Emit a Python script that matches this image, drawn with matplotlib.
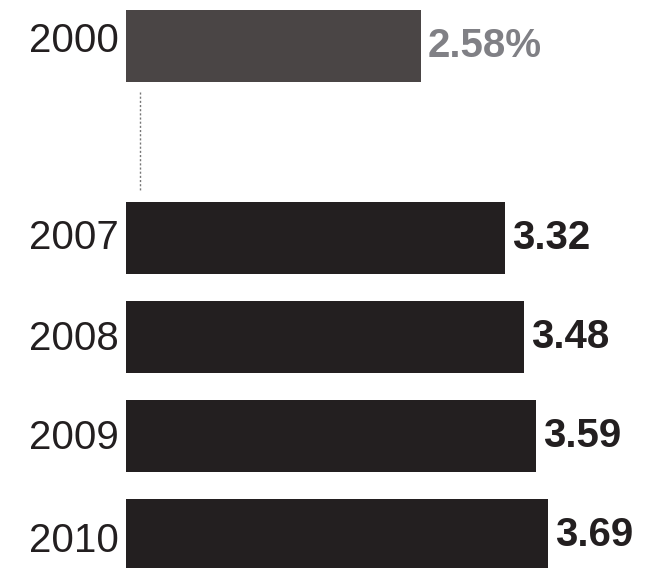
import matplotlib
matplotlib.use('Agg')
import matplotlib.pyplot as plt

years = ['2000', '2007', '2008', '2009', '2010']
values = [2.58, 3.32, 3.48, 3.59, 3.69]
labels = ['2.58%', '3.32', '3.48', '3.59', '3.69']

# vertical slots (gap between 2000 and 2007)
slots = [0, 1.95, 2.95, 3.96, 4.96]
# small nudges of the year labels, as in the original layout
year_nudge = [-0.05, -0.005, 0.025, 0.015, 0.065]
bar_h = 0.73
bar_colors = ['#4a4545', '#231f20', '#231f20', '#231f20', '#231f20']
label_colors = ['#808085', '#231f20', '#231f20', '#231f20', '#231f20']

fig = plt.figure(figsize=(6.52, 5.68), dpi=100)
ax = fig.add_axes([0, 0, 1, 1])
ax.barh(slots, values, height=bar_h, color=bar_colors, linewidth=0)

for s, n, y in zip(slots, year_nudge, years):
    ax.text(-0.06, s + n, y, ha='right', va='center', fontsize=29,
            family='Liberation Sans', color='#231f20')
for s, v, lab, c in zip(slots, values, labels, label_colors):
    ax.text(v + 0.06, s, lab, ha='left', va='center', fontsize=29,
            family='Liberation Sans', fontweight='bold', color=c)

# dotted connector between 2000 and 2007
ax.vlines(0.12, slots[0] + bar_h / 2 + 0.1, slots[1] - bar_h / 2 - 0.1,
          colors='#777777', linestyles=(0, (1.5, 1.5)), linewidth=1)

ax.set_xlim(-126 / 114.3, (652 - 126) / 114.3)
ax.set_ylim((568 - 46) / 98.5, -46 / 98.5)
ax.axis('off')
fig.savefig('out.png', dpi=100)
